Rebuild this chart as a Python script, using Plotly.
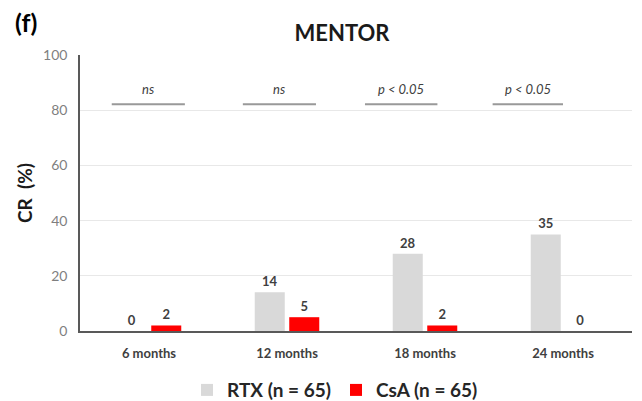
import plotly.graph_objects as go

categories = ["6 months", "12 months", "18 months", "24 months"]
rtx_values = [0, 14, 28, 35]
csa_values = [2, 5, 2, 0]
rtx_name = "RTX (n = 65)"
csa_name = "CsA (n = 65)"
sig_labels = ["ns", "ns", "p < 0.05", "p < 0.05"]
sig_level = 82.2
y_ticks = [0, 20, 40, 60, 80, 100]

FONT = "Lato, 'Open Sans', sans-serif"
# page body has an 8px default margin, so the figure is sized to fill the rest
W, H = 634, 393

fig = go.Figure()
fig.add_trace(go.Bar(
    x=categories, y=rtx_values, name="<b>" + rtx_name + "</b>",
    marker=dict(color="#d9d9d9", line=dict(width=0)),
    text=["<b>" + str(v) + "</b>" for v in rtx_values], textposition="outside",
    textfont=dict(size=13, color="#404040", family=FONT), cliponaxis=False,
))
fig.add_trace(go.Bar(
    x=categories, y=csa_values, name="<b>" + csa_name + "</b>",
    marker=dict(color="#ff0000", line=dict(width=0)),
    text=["<b>" + str(v) + "</b>" for v in csa_values], textposition="outside",
    textfont=dict(size=13, color="#404040", family=FONT), cliponaxis=False,
))

# significance bars (offsets relative to category index, as in the original layout)
line_spans = [(-0.27, 0.26), (0.68, 1.21), (1.565, 2.09), (2.49, 3.0)]
for (x0, x1), lab in zip(line_spans, sig_labels):
    fig.add_shape(type="line", xref="x", yref="y", x0=x0, x1=x1,
                  y0=sig_level, y1=sig_level,
                  line=dict(color="#999999", width=2))
    fig.add_annotation(x=(x0 + x1) / 2, y=sig_level, xref="x", yref="y",
                       text="<i>" + lab + "</i>", showarrow=False,
                       yanchor="bottom", yshift=5,
                       font=dict(size=13, color="#404040", family=FONT))

fig.add_annotation(xref="paper", yref="paper", x=-0.122, y=1.12,
                   xanchor="left", yanchor="middle",
                   text="<b>(f)</b>", showarrow=False,
                   font=dict(size=25, color="#000000", family=FONT))

fig.update_layout(
    width=W, height=H,
    margin=dict(l=72, r=10, t=47, b=70, autoexpand=False),
    paper_bgcolor="white", plot_bgcolor="white",
    title=dict(text="<b>MENTOR</b>", x=334 / W, xanchor="center",
               y=1 - 25 / H, yanchor="middle",
               font=dict(size=22, color="#1a1a1a", family=FONT)),
    barmode="group", bargap=0.5, bargroupgap=0.13,
    showlegend=True,
    legend=dict(orientation="h", x=0.462, xanchor="center", y=-0.214, yanchor="middle",
                font=dict(size=19, color="#262626", family=FONT),
                traceorder="normal"),
    font=dict(family=FONT),
)
fig.update_xaxes(
    showline=True, linecolor="#595959", linewidth=1.5,
    tickvals=categories, ticktext=["<b>" + c + "</b>" for c in categories],
    tickfont=dict(size=13, color="#404040", family=FONT),
    ticks="", showgrid=False, ticklabelstandoff=10, automargin=False,
)
fig.update_yaxes(
    range=[0, 100], tickvals=y_ticks, showline=True, linecolor="#595959", linewidth=1.5,
    showgrid=True, gridcolor="#e8e8e8", gridwidth=1, zeroline=False,
    tickfont=dict(size=14, color="#7f7f7f", family=FONT), ticks="",
    ticklabelstandoff=8, automargin=False,
    title=dict(text="<b>CR  (%)</b>", font=dict(size=19, color="#1a1a1a", family=FONT), standoff=5),
)

fig.write_html("out.html")
